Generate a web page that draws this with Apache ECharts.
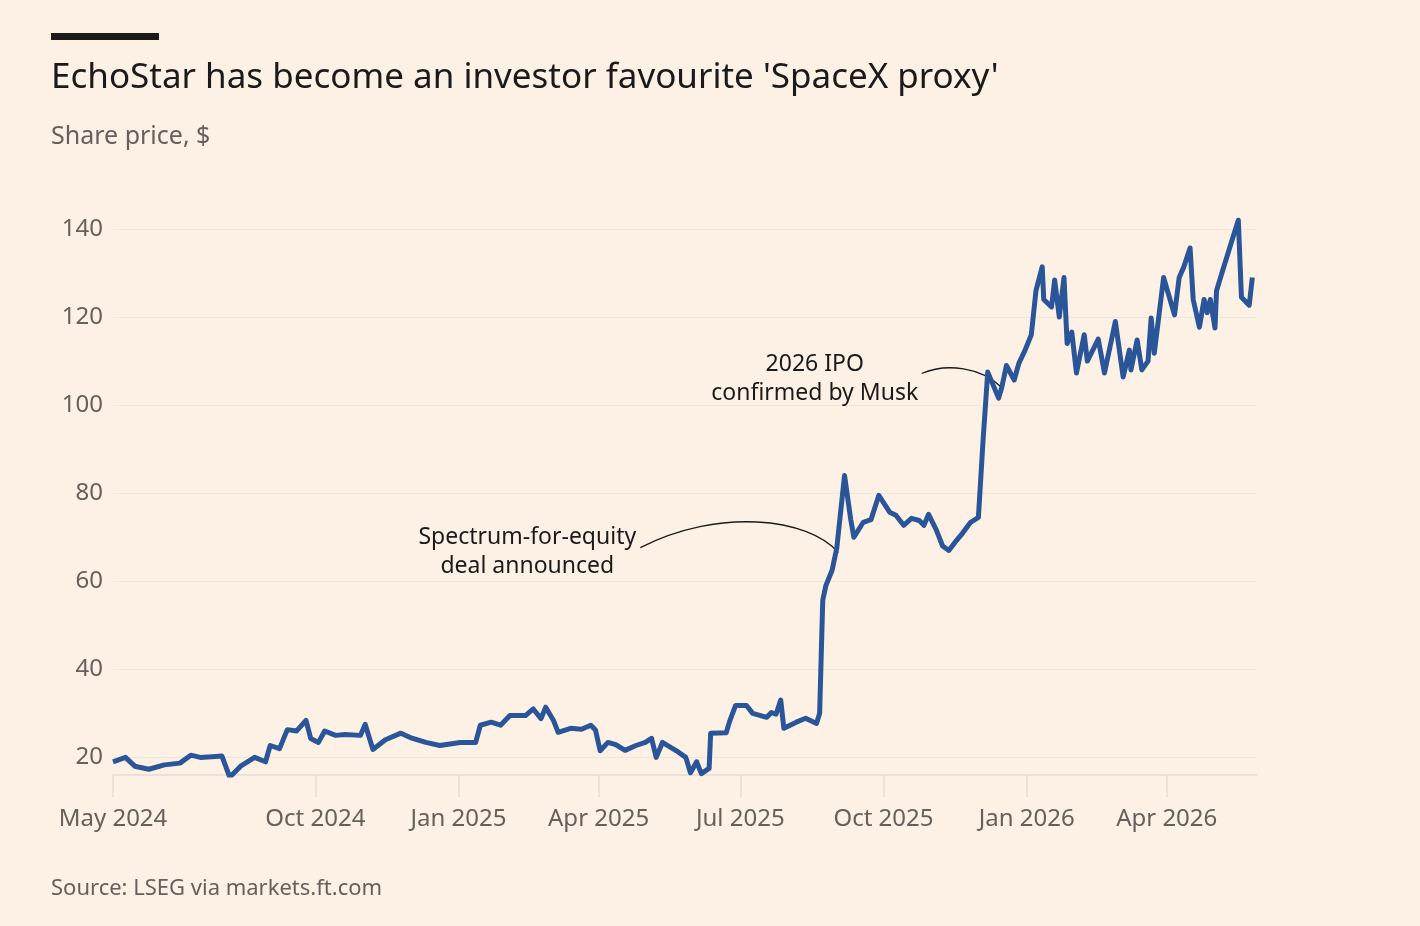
<!DOCTYPE html>
<html><head><meta charset="utf-8">
<script src="https://cdn.jsdelivr.net/npm/echarts@6/dist/echarts.min.js"></script>
<style>html,body{margin:0;padding:0;background:#fdf1e6}#c{width:1420px;height:926px}</style>
</head><body><div id="c"></div>
<script>
// days since 24 May 2024
const startDate = '2024-05-24';
const days = [0,8,14,23,33,43,50,56,66,70,75,82,91,98,101,107,112,118,124,127,132,136,143,149,159,162,167,175,185,191,201,210,223,233,236,243,249,255,265,270,275,278,283,286,294,301,307,310,313,318,323,329,336,342,346,349,353,362,368,371,375,378,383,384,394,396,400,407,411,420,423,426,429,431,439,445,452,454,456,458,462,465,470,474,476,482,487,492,499,503,508,513,518,521,524,529,533,537,542,546,551,556,559,562,569,571,574,579,582,586,590,593,597,598,603,605,608,611,613,616,619,624,626,633,637,644,649,653,654,658,661,665,667,669,675,682,685,688,692,694,698,701,703,705,708,709,712,719,723,725,730,732];
const prices = [19,20,18,17.3,18.3,18.7,20.5,20,20.2,20.3,15.5,18,20,19,22.7,22,26.3,26,28.4,24.3,23.4,26,25,25.2,25,27.5,21.8,24,25.5,24.5,23.4,22.7,23.4,23.4,27.3,28,27.3,29.5,29.5,31,28.8,31.4,28.4,25.7,26.6,26.4,27.3,26.2,21.5,23.4,22.9,21.6,22.7,23.4,24.3,20,23.4,21.5,20,16.5,19,16.3,17.5,25.5,25.6,28,31.8,31.8,30,29.1,30.2,29.8,33,26.6,28,28.9,27.7,30,55.7,59,62.5,67.5,84,74,70,73.4,74,79.5,75.7,75,72.7,74.3,73.8,72.7,75.2,71.6,68,67,69.3,71,73.4,74.5,92,107.5,101.6,104,109,105.7,109.5,112.5,116,126,131.4,124,122.3,128.4,120,129,114,116.6,107.3,116,110,115,107.3,119,106.4,112.5,108,114.8,108,110,119.8,111.8,129,120.5,129,131.4,135.7,124,117.7,124,121,124,117.5,126,129.5,137.5,142,124.5,122.7,129];
const tickDates = ['2024-05-24','2024-10-01','2025-01-01','2025-04-01','2025-07-01','2025-10-01','2026-01-01','2026-04-01'];
const tickLabels = ['May 2024','Oct 2024','Jan 2025','Apr 2025','Jul 2025','Oct 2025','Jan 2026','Apr 2026'];
const yTicks = [20,40,60,80,100,120,140];

const DAY = 86400000;
const t0 = Date.parse(startDate + 'T00:00:00Z');
const dayOf = s => Math.round((Date.parse(s+'T00:00:00Z')-t0)/DAY);
const series = days.map((d,i)=>[d, prices[i]]);
const tickDays = tickDates.map(dayOf);
const F = 'Noto Sans';
const chart = echarts.init(document.getElementById('c'));
chart.setOption({
  backgroundColor:'#fdf1e6',
  animation:false,
  textStyle:{fontFamily:F},
  grid:{left:113,right:163,top:207,bottom:151,containLabel:false},
  xAxis:{type:'value',min:0,max:735,
    axisLine:{show:true,lineStyle:{color:'#e6dcd2',width:1.5}},
    axisTick:{show:true,customValues:tickDays,length:22,lineStyle:{color:'#e6dcd2',width:1.5}},
    splitLine:{show:false},
    axisLabel:{customValues:tickDays,margin:32,fontSize:24,color:'#66605c',fontFamily:F,
      formatter:v=>{const i=tickDays.indexOf(Math.round(v));return i>=0?tickLabels[i]:'';}}},
  yAxis:{type:'value',min:16,max:145,
    axisLine:{show:false},axisTick:{show:false,customValues:yTicks},
    splitLine:{show:true,lineStyle:{color:'#efe5db',width:1}},
    axisLabel:{customValues:yTicks,margin:10,fontSize:24,color:'#66605c',fontFamily:F}},
  series:[{type:'line',data:series,showSymbol:false,symbol:'none',
    lineStyle:{color:'#2a5599',width:5,join:'round'}}]
});
function px(dateStr,v){return chart.convertToPixel({gridIndex:0},[dayOf(dateStr),v]);}
const a1 = px('2025-09-02',66.5), a2 = px('2025-12-16',104);
const txt = (id,x,y,text,font,fill,align)=>({type:'text',id,x,y,style:{text,font,fill,align:align||'left',lineHeight:29}});
chart.setOption({graphic:[
  {type:'rect',id:'bar',shape:{x:51,y:33,width:108,height:7},style:{fill:'#1a1a1a'}},
  txt('title',51,64,"EchoStar has become an investor favourite 'SpaceX proxy'",'35px "Noto Sans"','#1a1a1a'),
  txt('sub',51,122,'Share price, $','25px "Noto Sans"','#66605c'),
  txt('src',51,874,'Source: LSEG via markets.ft.com','22px "Noto Sans"','#66605c'),
  txt('n1',a1[0]-311,a1[1]-30,'Spectrum-for-equity\ndeal announced','23px "Noto Sans"','#1a1a1a','center'),
  {type:'bezierCurve',id:'c1',shape:{x1:a1[0]-198,y1:a1[1]-5,cpx1:a1[0]-120,cpy1:a1[1]-45,cpx2:a1[0]-30,cpy2:a1[1]-35,x2:a1[0],y2:a1[1]},style:{stroke:'#1a1a1a',lineWidth:1.3,fill:null}},
  txt('n2',a2[0]-187,a2[1]-38,'2026 IPO\nconfirmed by Musk','23px "Noto Sans"','#1a1a1a','center'),
  {type:'bezierCurve',id:'c2',shape:{x1:a2[0]-80,y1:a2[1]-14,cpx1:a2[0]-55,cpy1:a2[1]-25,cpx2:a2[0]-20,cpy2:a2[1]-20,x2:a2[0],y2:a2[1]},style:{stroke:'#1a1a1a',lineWidth:1.3,fill:null}}
]});
</script></body></html>
